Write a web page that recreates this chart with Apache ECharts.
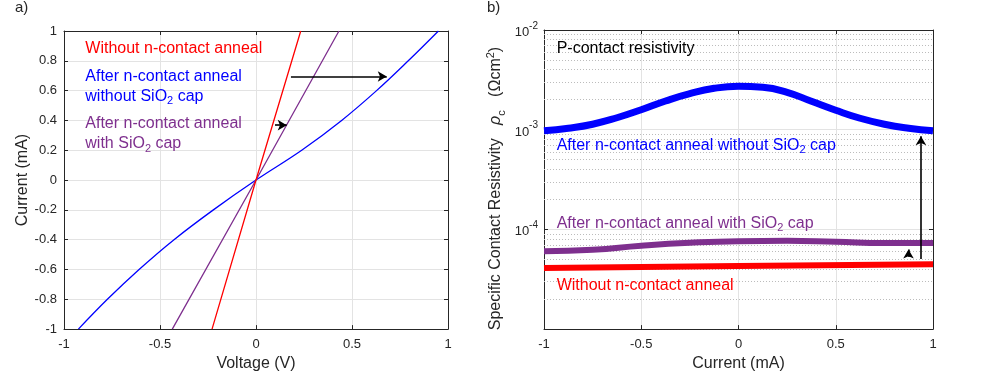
<!DOCTYPE html>
<html><head><meta charset="utf-8">
<script src="https://cdn.jsdelivr.net/npm/echarts@6/dist/echarts.min.js"></script>
<style>html,body{margin:0;padding:0;background:#fff}#c{width:981px;height:377px}</style>
</head><body><div id="c"></div>
<script>
// ---------- data: panel a (I-V) ----------
const ivCurrent = [-1, -0.8, -0.6, -0.4, -0.2, 0, 0.2, 0.4, 0.6, 0.8, 1];
const blueVoltage = [-0.925, -0.774, -0.609, -0.427, -0.222, 0, 0.238, 0.446, 0.628, 0.793, 0.95];
const linCurrent = [-1, 0, 1];
const redVoltage = [-0.229, 0, 0.233];
const purpleVoltage = [-0.436, 0, 0.432];

// ---------- data: panel b (contact resistivity) ----------
const rhoCurrent = [-1, -0.875, -0.75, -0.625, -0.5, -0.375, -0.25, -0.125, 0, 0.125, 0.25, 0.375, 0.5, 0.625, 0.75, 0.875, 1];
const blueRho = [9.77e-4, 1.035e-3, 1.135e-3, 1.318e-3, 1.585e-3, 1.941e-3, 2.301e-3, 2.600e-3, 2.723e-3, 2.661e-3, 2.371e-3, 1.928e-3, 1.567e-3, 1.303e-3, 1.135e-3, 1.035e-3, 9.77e-4];
const purpleRhoCurrent = [-1, -0.75, -0.5, -0.25, 0, 0.25, 0.5, 0.75, 1];
const purpleRho = [6.03e-5, 6.26e-5, 6.86e-5, 7.34e-5, 7.62e-5, 7.68e-5, 7.5e-5, 7.3e-5, 7.3e-5];
const redRhoCurrent = [-1, 0, 1];
const redRho = [4.11e-5, 4.29e-5, 4.46e-5];

const RED = '#ff0000', BLUE = '#0000ff', PURPLE = '#7e2f8e';
const AX = '#262626', GRIDC = '#e3e3e3';
const FONT = 'Liberation Sans, Arial, sans-serif';

const pairs = (xs, ys) => xs.map((x, i) => [x, ys[i]]);

// minor log gridlines (2..9 x 10^n)
const minorVals = [];
for (let e = -5; e < -2; e++) for (let m = 2; m <= 9; m++) minorVals.push(m * Math.pow(10, e));

const chart = echarts.init(document.getElementById('c'), null, {renderer: 'canvas'});

const tickInside = {show: true, inside: true, length: 4, lineStyle: {color: AX, width: 1}};
const labelStyle = {color: AX, fontSize: 13, fontFamily: FONT};
const axLine = {show: true, onZero: false, lineStyle: {color: AX, width: 1}};

function mirrorAxis(base, pos) {
  return Object.assign({}, base, {
    position: pos, name: '', axisLabel: {show: false}, splitLine: {show: false},
    axisLine: axLine, axisTick: tickInside
  });
}

const xA0 = {type: 'value', gridIndex: 0, min: -1, max: 1, interval: 0.5, position: 'bottom',
  axisLine: axLine, axisTick: tickInside,
  axisLabel: Object.assign({margin: 9}, labelStyle),
  splitLine: {show: true, lineStyle: {color: GRIDC, width: 1}},
  name: 'Voltage (V)', nameLocation: 'middle', nameGap: 26,
  nameTextStyle: {color: AX, fontSize: 16, fontFamily: FONT}};
const yA0 = {type: 'value', gridIndex: 0, min: -1, max: 1, interval: 0.2, position: 'left',
  axisLine: axLine, axisTick: tickInside,
  axisLabel: Object.assign({margin: 7, formatter: v => String(Math.round(v * 10) / 10)}, labelStyle),
  splitLine: {show: true, lineStyle: {color: GRIDC, width: 1}},
  name: 'Current (mA)', nameLocation: 'middle', nameGap: 33,
  nameTextStyle: {color: AX, fontSize: 16, fontFamily: FONT}};
const xA2 = Object.assign({}, xA0, {gridIndex: 1, name: 'Current (mA)'});
const yA2 = {type: 'log', logBase: 10, gridIndex: 1, min: 1e-5, max: 1e-2, position: 'left',
  axisLine: axLine, axisTick: tickInside,
  axisLabel: Object.assign({margin: 6,
    formatter: v => {
      const e = Math.round(Math.log10(v));
      if (e === -5) return '';
      return '{b|10}{sup|' + e + '}';
    },
    rich: {b: {fontSize: 13, color: AX, fontFamily: FONT, lineHeight: 18, verticalAlign: 'bottom'},
           sup: {fontSize: 10, color: AX, fontFamily: FONT, lineHeight: 10, verticalAlign: 'top'}}
  }, labelStyle),
  splitLine: {show: true, lineStyle: {color: GRIDC, width: 1}},
  name: '{n|Specific Contact Resistivity   }{i|ρ}{s|c}{n|   (Ωcm}{p|2}{n|)}',
  nameLocation: 'middle', nameGap: 37,
  nameTextStyle: {color: AX, fontSize: 16, fontFamily: FONT, padding: [0, 18, 0, 0],
    rich: {n: {fontSize: 16, color: AX, fontFamily: FONT, lineHeight: 22},
           i: {fontSize: 16, color: AX, fontFamily: FONT, fontStyle: 'italic', lineHeight: 22},
           s: {fontSize: 11, color: AX, fontFamily: FONT, lineHeight: 11, verticalAlign: 'bottom'},
           p: {fontSize: 11, color: AX, fontFamily: FONT, lineHeight: 11, verticalAlign: 'top'}}}};

const arrowLine = (from, to) => [{coord: from}, {coord: to}];

const option = {
  animation: false,
  backgroundColor: '#fff',
  textStyle: {fontFamily: FONT},
  grid: [
    {left: 64, right: 533, top: 31, bottom: 44},
    {left: 544, right: 48, top: 30, bottom: 42}
  ],
  xAxis: [xA0, mirrorAxis(xA0, 'top'), xA2, mirrorAxis(xA2, 'top')],
  yAxis: [yA0, mirrorAxis(yA0, 'right'), yA2, mirrorAxis(yA2, 'right')],
  series: [
    {type: 'line', xAxisIndex: 0, yAxisIndex: 0, data: pairs(blueVoltage, ivCurrent), smooth: 0.4,
     symbol: 'none', lineStyle: {color: BLUE, width: 1.3}, z: 3},
    {type: 'line', xAxisIndex: 0, yAxisIndex: 0, data: pairs(purpleVoltage, linCurrent),
     symbol: 'none', lineStyle: {color: PURPLE, width: 1.3}, z: 3},
    {type: 'line', xAxisIndex: 0, yAxisIndex: 0, data: pairs(redVoltage, linCurrent),
     symbol: 'none', lineStyle: {color: RED, width: 1.3}, z: 3,
     markLine: {silent: true, symbol: ['none', 'arrow'], symbolSize: [8, 9], label: {show: false},
       lineStyle: {color: '#000', width: 1.6, type: 'solid'},
       data: [arrowLine([0.182, 0.695], [0.681, 0.695]), arrowLine([0.099, 0.368], [0.160, 0.368])]}},
    // carrier for minor dotted gridlines of the log axis
    {type: 'scatter', xAxisIndex: 2, yAxisIndex: 2, data: [[0, 1e-3]], symbolSize: 0, z: 1, silent: true,
     markLine: {silent: true, z: 1, precision: 12, symbol: ['none', 'none'], label: {show: false},
       lineStyle: {color: '#bcbcbc', width: 1, type: [1, 2]},
       data: minorVals.map(v => ({yAxis: v}))}},
    {type: 'line', xAxisIndex: 2, yAxisIndex: 2, data: pairs(rhoCurrent, blueRho), smooth: 0.5,
     symbol: 'none', lineStyle: {color: BLUE, width: 7, cap: 'butt'}, z: 3},
    {type: 'line', xAxisIndex: 2, yAxisIndex: 2, data: pairs(purpleRhoCurrent, purpleRho), smooth: 0.5,
     symbol: 'none', lineStyle: {color: PURPLE, width: 6, cap: 'butt'}, z: 3},
    {type: 'line', xAxisIndex: 2, yAxisIndex: 2, data: pairs(redRhoCurrent, redRho),
     symbol: 'none', lineStyle: {color: RED, width: 6, cap: 'butt'}, z: 3,
     markLine: {silent: true, precision: 12, symbol: ['none', 'arrow'], symbolSize: [8, 9], label: {show: false},
       lineStyle: {color: '#000', width: 1.6, type: 'solid'},
       data: [arrowLine([0.938, 5.05e-5], [0.938, 8.6e-4]), arrowLine([0.874, 5.3e-5], [0.874, 6.3e-5])]}}
  ]
};
chart.setOption(option);

// ---------- annotations placed via the axes ----------
const annLeft = [
  {t: '{b|Without n-contact anneal}', c: RED, at: [-0.889, 0.882]},
  {t: '{b|After n-contact anneal}\n{b|without SiO}{s|2}{b| cap}', c: BLUE, at: [-0.889, 0.628]},
  {t: '{b|After n-contact anneal}\n{b|with SiO}{s|2}{b| cap}', c: PURPLE, at: [-0.889, 0.309]}
];
const annRight = [
  {t: '{b|P-contact resistivity}', c: '#000', at: [-0.935, 6.46e-3]},
  {t: '{b|After n-contact anneal without SiO}{s|2}{b| cap}', c: BLUE, at: [-0.935, 6.97e-4]},
  {t: '{b|After n-contact anneal with SiO}{s|2}{b| cap}', c: PURPLE, at: [-0.935, 1.14e-4]},
  {t: '{b|Without n-contact anneal}', c: RED, at: [-0.935, 2.74e-5]}
];
function mk(a, grid) {
  const p = chart.convertToPixel({xAxisIndex: grid === 0 ? 0 : 2, yAxisIndex: grid === 0 ? 0 : 2}, a.at);
  return {type: 'text', x: p[0], y: p[1], z: 10, silent: true,
    style: {text: a.t, fill: a.c, verticalAlign: 'middle', align: 'left',
      rich: {b: {fontSize: 16, fill: a.c, color: a.c, fontFamily: FONT, lineHeight: 20},
             s: {fontSize: 11, fill: a.c, color: a.c, fontFamily: FONT, lineHeight: 11, verticalAlign: 'bottom'}}}};
}
const graphics = annLeft.map(a => mk(a, 0)).concat(annRight.map(a => mk(a, 1)));
graphics.push({type: 'text', left: 15, top: 0, silent: true, style: {text: 'a)', fill: AX, fontSize: 15, fontFamily: FONT}});
graphics.push({type: 'text', left: 487, top: 0, silent: true, style: {text: 'b)', fill: AX, fontSize: 15, fontFamily: FONT}});
chart.setOption({graphic: graphics});
</script></body></html>
